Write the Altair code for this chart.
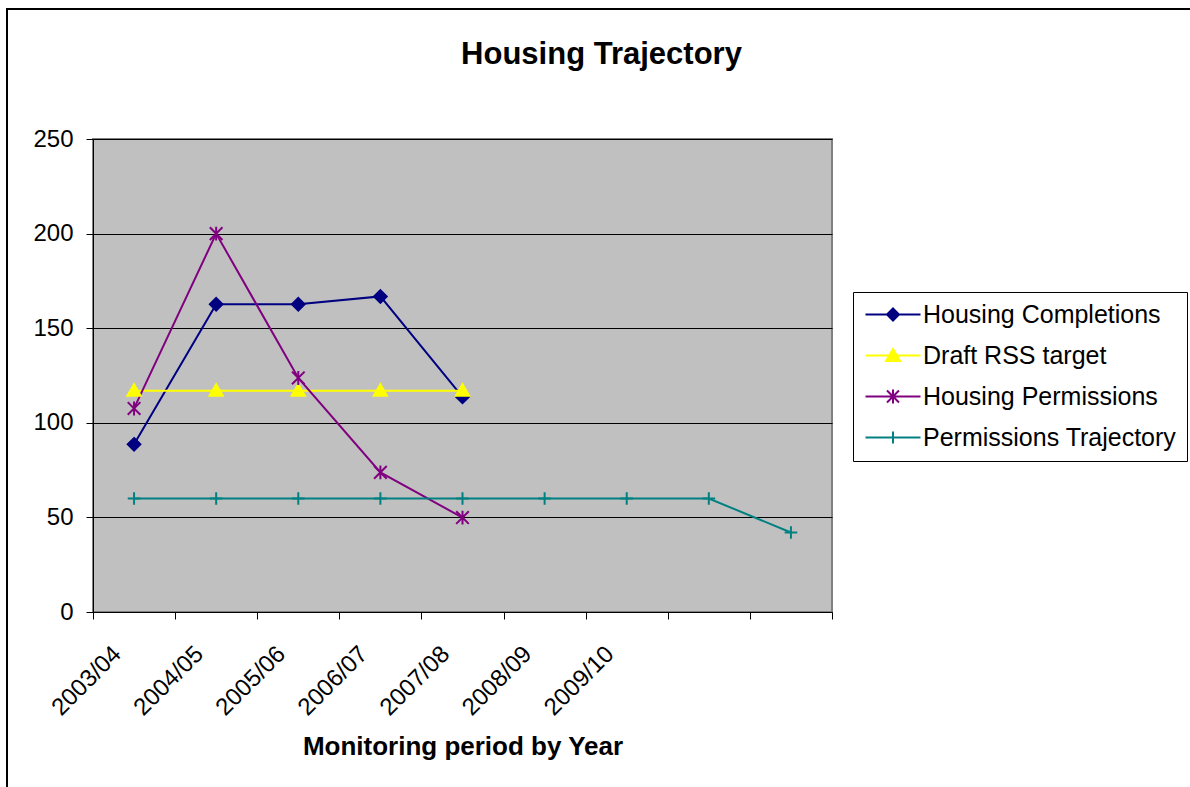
import altair as alt
import pandas as pd

categories = ["2003/04", "2004/05", "2005/06", "2006/07", "2007/08",
              "2008/09", "2009/10", " ", "  "]
series_names = ["Housing Completions", "Draft RSS target",
                "Housing Permissions", "Permissions Trajectory"]
marker_keys = ["diamond", "triangle", "star", "plus"]
completions = [88.6, 162.6, 162.6, 166.8, 113.7]
rss_target = [117, 117, 117, 117, 117]
permissions = [107.6, 200, 123.7, 73.8, 49.9]
trajectory = [60, 60, 60, 60, 60, 60, 60, 60, 42]
colors = ["#000080", "#FFFF00", "#800080", "#008080"]
y_ticks = [0, 50, 100, 150, 200, 250]

rows = []
for name, mk, vals in zip(series_names, marker_keys,
                          [completions, rss_target, permissions, trajectory]):
    for cat, v in zip(categories, vals):
        rows.append({"Year": cat, "Series": name, "Marker": mk, "Value": v})
df = pd.DataFrame(rows)

marker_paths = [
    "M0,-1L1,0L0,1L-1,0Z",
    "M0,-1L1.05,0.8L-1.05,0.8Z",
    "M-1,-1L1,1M-1,1L1,-1M0,-1.1L0,1.1",
    "M-1,0L1,0M0,-1L0,1",
]
legend_paths = [
    "M-1,0L4.5,0M1.75,-0.6L2.35,0L1.75,0.6L1.15,0Z",
    "M-1,0L4.5,0M1.75,-0.65L2.45,0.55L1.05,0.55Z",
    "M-1,0L4.5,0M1.15,-0.6L2.35,0.6M1.15,0.6L2.35,-0.6M1.75,-0.7L1.75,0.7",
    "M-1,0L4.5,0M1.75,-0.6L1.75,0.6",
]


def pick(values):
    expr = "'" + values[-1] + "'"
    for n, v in reversed(list(zip(series_names[:-1], values[:-1]))):
        expr = "(datum.value === '" + n + "' ? '" + v + "' : " + expr + ")"
    return expr


def make_legend():
    return alt.Legend(
        title=None, orient="none", legendX=760, legendY=153,
        labelFontSize=25, labelOffset=35, labelLimit=0, symbolSize=400,
        symbolStrokeWidth=2, rowPadding=15, padding=10,
        strokeColor="#000000", fillColor="#FFFFFF",
        labelColor="#000000", symbolOpacity=1,
        symbolType=alt.ExprRef(pick(legend_paths)))


x_enc = alt.X("Year:N", sort=categories,
              scale=alt.Scale(domain=categories, paddingInner=0, paddingOuter=0),
              axis=alt.Axis(title="Monitoring period by Year", labelAngle=-45,
                            labelAlign="right", labelBaseline="middle",
                            labelPadding=31, labelOffset=-17, tickBand="extent",
                            tickSize=7, labelFontSize=24, titleFontSize=26,
                            titleFontWeight="bold", titleY=142,
                            titleBaseline="alphabetic", grid=False))
y_enc = alt.Y("Value:Q",
              scale=alt.Scale(domain=[0, 250], nice=False),
              axis=alt.Axis(title=None, values=y_ticks, tickSize=7,
                            labelPadding=13, labelFontSize=24, grid=True,
                            gridColor="#000000", gridWidth=1))

color_scale = alt.Scale(domain=series_names, range=colors)

lines = alt.Chart(df).mark_line(strokeWidth=2).encode(
    x=x_enc, y=y_enc,
    stroke=alt.Stroke("Series:N", scale=color_scale, legend=make_legend()),
    detail="Series:N",
)

points = alt.Chart(df).mark_point(filled=True, opacity=1, strokeWidth=2, size=160).encode(
    x=x_enc, y=y_enc,
    fill=alt.Fill("Series:N", scale=color_scale, legend=make_legend()),
    stroke=alt.Stroke("Series:N", scale=color_scale, legend=make_legend()),
    shape=alt.Shape("Marker:N", scale=alt.Scale(domain=marker_keys, range=marker_paths),
                    legend=None),
)

frame = alt.Chart(pd.DataFrame({"k": [0]})).mark_rect(
    fill=None, stroke="#000000", strokeWidth=2
).encode(
    x=alt.value(-86), x2=alt.value(1300), y=alt.value(-130), y2=alt.value(900)
)

chart = alt.layer(frame, lines, points).properties(
    width=739, height=473,
    title=alt.TitleParams("Housing Trajectory", fontSize=31, fontWeight="bold",
                          anchor="middle", dx=139, offset=-87, baseline="alphabetic",
                          color="#000000"),
    autosize=alt.AutoSizeParams(type="none"),
    padding={"left": 93, "top": 139, "right": 358, "bottom": 175},
).configure(
    font="Liberation Sans",
).configure_view(
    fill="#C0C0C0", stroke="#808080", strokeWidth=2,
).configure_axis(
    labelColor="#000000", domainColor="#000000", tickColor="#000000",
    titleColor="#000000", labelFont="Liberation Sans", titleFont="Liberation Sans",
).configure_legend(
    labelFont="Liberation Sans",
)

chart.save("out.html", embed_options={"renderer": "svg", "actions": False})
